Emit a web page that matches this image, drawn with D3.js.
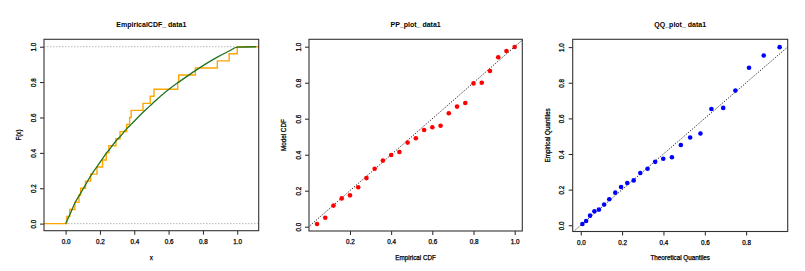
<!DOCTYPE html>
<html>
<head>
<meta charset="utf-8">
<script src="https://cdn.jsdelivr.net/npm/d3@7"></script>
<style>
  body { margin: 0; background: #fff; }
  text { font-family: "Liberation Sans", Arial, sans-serif; fill: #000; }
  .lab { stroke: #000; stroke-width: 0.25px; }
</style>
</head>
<body>
<div id="chart"></div>
<script>
const sample = [0.007, 0.024, 0.054, 0.078, 0.088, 0.116, 0.146, 0.183, 0.215, 0.237,
  0.252, 0.293, 0.317, 0.356, 0.373, 0.382, 0.451, 0.493, 0.515, 0.653,
  0.659, 0.756, 0.884, 0.953, 1.0];
// empirical CDF levels i/n
const empCdf = [0.04, 0.08, 0.12, 0.16, 0.20, 0.24, 0.28, 0.32, 0.36, 0.40,
  0.44, 0.48, 0.52, 0.56, 0.60, 0.64, 0.68, 0.72, 0.76, 0.80,
  0.84, 0.88, 0.92, 0.96, 1.00];
// fitted model CDF at each sample value (PP plot y)
const modelCdf = [0.015, 0.050, 0.117, 0.157, 0.174, 0.219, 0.270, 0.322, 0.367, 0.398,
  0.415, 0.467, 0.491, 0.537, 0.552, 0.561, 0.630, 0.667, 0.687, 0.796,
  0.800, 0.865, 0.941, 0.976, 0.998];
// theoretical quantiles (QQ plot x)
const theoQuant = [0.008, 0.026, 0.045, 0.066, 0.088, 0.113, 0.138, 0.167, 0.195, 0.225,
  0.256, 0.288, 0.323, 0.360, 0.399, 0.441, 0.484, 0.529, 0.579, 0.632,
  0.689, 0.748, 0.814, 0.885, 0.962];
const curveEnd = 1.11; // fitted curve drawn flat past x = 1

const ticksFull = [0, 0.2, 0.4, 0.6, 0.8, 1.0];
const ticksPPx = [0.2, 0.4, 0.6, 0.8, 1.0];
const ticksQQx = [0, 0.2, 0.4, 0.6, 0.8];

const W = 805, H = 271;
const fmt = d3.format(".1f");
const fs = 6.3;

const svg = d3.select("#chart").append("svg")
  .attr("width", W).attr("height", H)
  .attr("viewBox", `0 0 ${W} ${H}`);
svg.append("rect").attr("width", W).attr("height", H).attr("fill", "#fff");

function panel(box, xDom, yDom, xTicks, yTicks, title, xLab, yLab, id) {
  const [l, r, t, b] = box;
  const x = d3.scaleLinear().domain(xDom).range([l, r]);
  const y = d3.scaleLinear().domain(yDom).range([b, t]);

  svg.append("clipPath").attr("id", id)
    .append("rect").attr("x", l).attr("y", t).attr("width", r - l).attr("height", b - t);

  const g = svg.append("g");
  const plot = g.append("g").attr("clip-path", `url(#${id})`);

  // x axis
  const ax = g.append("g").attr("transform", `translate(0,${b})`)
    .call(d3.axisBottom(x).tickValues(xTicks).tickFormat(fmt).tickSize(4).tickPadding(5));
  ax.select(".domain").remove();
  ax.selectAll("line").attr("stroke", "#222");
  ax.selectAll("text").attr("class", "lab").style("font-size", fs + "px");

  // y axis, labels parallel to axis
  const ay = g.append("g").attr("transform", `translate(${l},0)`)
    .call(d3.axisLeft(y).tickValues(yTicks).tickFormat(fmt).tickSize(4));
  ay.select(".domain").remove();
  ay.selectAll("line").attr("stroke", "#222");
  ay.selectAll("text")
    .attr("class", "lab")
    .attr("x", null).attr("dy", null)
    .attr("text-anchor", "middle")
    .attr("transform", `translate(${-10.5 + 0.35 * fs},0) rotate(-90)`)
    .style("font-size", fs + "px");

  g.append("text")
    .attr("x", (l + r) / 2).attr("y", 26.5)
    .attr("text-anchor", "middle")
    .style("font-size", "7px").style("font-weight", "bold")
    .text(title);
  g.append("text")
    .attr("class", "lab")
    .attr("x", (l + r) / 2).attr("y", 259.5)
    .attr("text-anchor", "middle")
    .style("font-size", fs + "px")
    .text(xLab);
  g.append("text")
    .attr("class", "lab")
    .attr("transform", `translate(${l - 25 + 0.35 * fs},${(t + b) / 2}) rotate(-90)`)
    .attr("text-anchor", "middle")
    .style("font-size", fs + "px")
    .text(yLab);

  return { x, y, plot, g, box };
}

function frame(p) {
  const [l, r, t, b] = p.box;
  p.g.append("rect")
    .attr("x", l).attr("y", t).attr("width", r - l).attr("height", b - t)
    .attr("fill", "none").attr("stroke", "#333").attr("stroke-width", 1.1);
}

// ---- Empirical CDF ----
const p1 = panel([44, 258.7, 39.3, 230.7], [-0.126, 1.125], [-0.040, 1.042],
  ticksFull, ticksFull, "EmpiricalCDF_ data1", "x", "F(x)", "c1");

[0, 1].forEach(v => {
  p1.plot.append("line")
    .attr("x1", p1.box[0]).attr("x2", p1.box[1])
    .attr("y1", p1.y(v)).attr("y2", p1.y(v))
    .attr("stroke", "#b8b8b8").attr("stroke-dasharray", "1.5,1.5");
});

const stepPts = [[-0.2, 0]].concat(sample.map((s, i) => [s, empCdf[i]])).concat([[1.3, 1]]);
p1.plot.append("path")
  .datum(stepPts)
  .attr("fill", "none").attr("stroke", "#FFA500").attr("stroke-width", 1.4)
  .attr("d", d3.line().x(d => p1.x(d[0])).y(d => p1.y(d[1])).curve(d3.curveStepAfter));

const curvePts = [[0, 0]].concat(sample.map((s, i) => [s, modelCdf[i]])).concat([[curveEnd, 1]]);
p1.plot.append("path")
  .datum(curvePts)
  .attr("fill", "none").attr("stroke", "#1f731f").attr("stroke-width", 1.3)
  .attr("d", d3.line().x(d => p1.x(d[0])).y(d => p1.y(d[1])).curve(d3.curveMonotoneX));
frame(p1);

// ---- PP plot ----
const p2 = panel([309, 522.3, 39.3, 231], [0.001, 1.037], [-0.024, 1.041],
  ticksPPx, ticksFull, "PP_plot_ data1", "Empirical CDF", "Model CDF", "c2");
p2.plot.append("line")
  .attr("x1", p2.x(-0.2)).attr("y1", p2.y(-0.2)).attr("x2", p2.x(1.2)).attr("y2", p2.y(1.2))
  .attr("stroke", "#000").attr("stroke-width", 0.9).attr("stroke-dasharray", "1.2,1.6");
p2.plot.selectAll("circle").data(empCdf).join("circle")
  .attr("cx", d => p2.x(d)).attr("cy", (d, i) => p2.y(modelCdf[i]))
  .attr("r", 2.3).attr("fill", "#ff0000");
frame(p2);

// ---- QQ plot ----
const p3 = panel([572.7, 787.7, 39.3, 231.5], [-0.039, 1.001], [-0.035, 1.044],
  ticksQQx, ticksFull, "QQ_plot_ data1", "Theoretical Quantiles", "Empirical Quantiles", "c3");
p3.plot.append("line")
  .attr("x1", p3.x(-0.2)).attr("y1", p3.y(-0.2)).attr("x2", p3.x(1.2)).attr("y2", p3.y(1.2))
  .attr("stroke", "#000").attr("stroke-width", 0.9).attr("stroke-dasharray", "1.2,1.6");
p3.plot.selectAll("circle").data(theoQuant).join("circle")
  .attr("cx", d => p3.x(d)).attr("cy", (d, i) => p3.y(sample[i]))
  .attr("r", 2.3).attr("fill", "#0000ff");
frame(p3);
</script>
</body>
</html>
